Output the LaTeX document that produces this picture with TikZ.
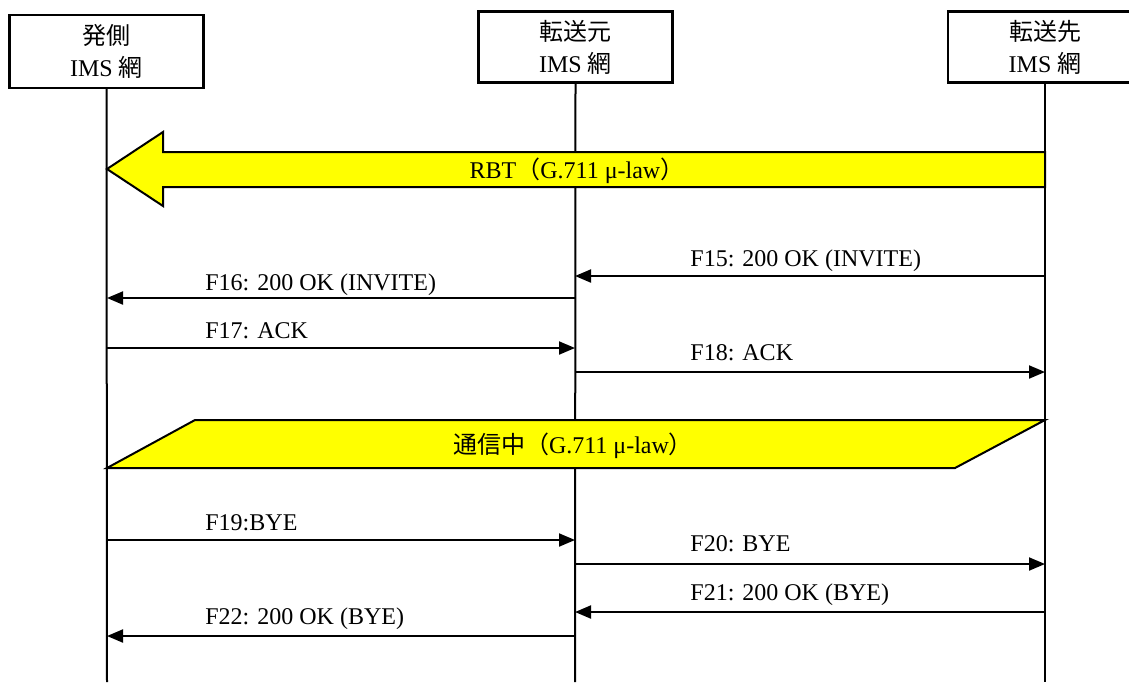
\documentclass[tikz,border=0pt]{standalone}
\usepackage{fontspec}
\setmainfont{Liberation Serif}
\newfontfamily\jp{Noto Sans CJK JP}
\usetikzlibrary{arrows.meta}
\definecolor{ylw}{RGB}{255,255,0}
\begin{document}
\begin{tikzpicture}[x=0.5pt,y=-0.5pt, font=\fontsize{12}{16}\selectfont,
  hdr/.style={draw, line width=1.2pt, minimum width=97pt, minimum height=35.5pt, align=center, inner sep=0pt},
  life/.style={line width=1pt},
  msg/.style={line width=1pt, -{Triangle[length=8pt,width=6.5pt]}},
  lbl/.style={anchor=base west, inner sep=0pt},
  band/.style={fill=ylw, draw=black, line width=1pt, line join=miter}]
\useasboundingbox (0,0) rectangle (1129,682);
% headers
\node[hdr, minimum height=36.5pt] (A) at (106.5,51.5) {{\jp 発側}\\IMS {\jp 網}};
\node[hdr] (B) at (575.5,47) {{\jp 転送元}\\IMS {\jp 網}};
\node[hdr] (C) at (1045,47) {{\jp 転送先}\\IMS {\jp 網}};
% lifelines
\coordinate (Ae) at (107,682);
\coordinate (Be) at (575,682);
\coordinate (Ce) at (1045,682);
\draw[life] (A.south) -- (Ae);
\draw[life] (B.south) -- (Be);
\draw[life] (C.south) -- (Ce);
% RBT band
\draw[band] (107,169) -- (163,132) -- (163,152) -- (1045,152) -- (1045,187) -- (163,187) -- (163,206) -- cycle;
\node (rbt) at (577,171) {RBT{\jp （}G.711 μ-law{\jp ）}};
% messages
\coordinate (m15) at (0,276);
\coordinate (m16) at (0,298);
\coordinate (m17) at (0,348);
\coordinate (m18) at (0,372);
\coordinate (m19) at (0,540);
\coordinate (m20) at (0,564);
\coordinate (m21) at (0,612);
\coordinate (m22) at (0,636);
\draw[msg] (Ce |- m15) -- (Be |- m15);
\node[lbl] (l15) at (690,266) {F15: 200 OK (INVITE)};
\draw[msg] (Be |- m16) -- (Ae |- m16);
\node[lbl] (l16) at (205,290) {F16: 200 OK (INVITE)};
\draw[msg] (Ae |- m17) -- (Be |- m17);
\node[lbl] (l17) at (205,338) {F17: ACK};
\draw[msg] (Be |- m18) -- (Ce |- m18);
\node[lbl] (l18) at (690,360) {F18: ACK};
% talking band
\draw[band] (107,468) -- (195,420) -- (1045,420) -- (955,468) -- cycle;
\node (talk) at (573,446) {{\jp 通信中（}G.711 μ-law{\jp ）}};
\draw[msg] (Ae |- m19) -- (Be |- m19);
\node[lbl] (l19) at (205,530) {F19:BYE};
\draw[msg] (Be |- m20) -- (Ce |- m20);
\node[lbl] (l20) at (690,551) {F20: BYE};
\draw[msg] (Ce |- m21) -- (Be |- m21);
\node[lbl] (l21) at (690,600) {F21: 200 OK (BYE)};
\draw[msg] (Be |- m22) -- (Ae |- m22);
\node[lbl] (l22) at (205,624) {F22: 200 OK (BYE)};
\end{tikzpicture}
\end{document}
